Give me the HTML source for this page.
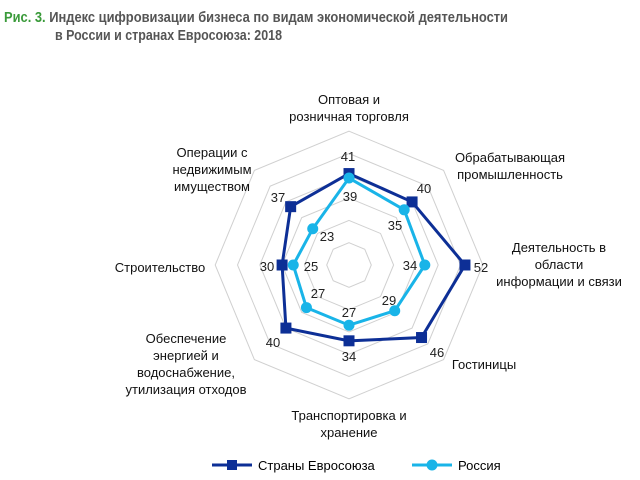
<!DOCTYPE html>
<html><head><meta charset="utf-8"><style>
body{margin:0;background:#fff;}
svg{display:block;font-family:"Liberation Sans",Arial,sans-serif;}
</style></head><body>
<svg id="s" width="640" height="480" xmlns="http://www.w3.org/2000/svg">
<text x="4" y="22" font-size="15" font-weight="bold" fill="#555" textLength="504" lengthAdjust="spacingAndGlyphs"><tspan fill="#3a9a3a">Рис. 3.</tspan> Индекс цифровизации бизнеса по видам экономической деятельности</text>
<text x="55" y="40" font-size="15" font-weight="bold" fill="#555" textLength="227" lengthAdjust="spacingAndGlyphs">в России и странах Евросоюза: 2018</text>
<g id="g"></g>
<g font-size="13" fill="#111" text-anchor="middle">
<text x="349" y="104">Оптовая и</text>
<text x="349" y="121">розничная торговля</text>
<text x="510" y="162">Обрабатывающая</text>
<text x="510" y="179">промышленность</text>
<text x="559" y="252">Деятельность в</text>
<text x="559" y="269">области</text>
<text x="559" y="286">информации и связи</text>
<text x="484" y="369">Гостиницы</text>
<text x="349" y="420">Транспортировка и</text>
<text x="349" y="437">хранение</text>
<text x="186" y="343">Обеспечение</text>
<text x="186" y="360">энергией и</text>
<text x="186" y="377">водоснабжение,</text>
<text x="186" y="394">утилизация отходов</text>
<text x="160" y="272">Строительство</text>
<text x="212" y="157">Операции с</text>
<text x="212" y="174">недвижимым</text>
<text x="212" y="191">имуществом</text>
</g>
<g font-size="13" fill="#222" text-anchor="middle">
<text x="348" y="161">41</text><text x="350" y="201">39</text>
<text x="424" y="193">40</text><text x="395" y="230">35</text>
<text x="481" y="272">52</text><text x="410" y="270">34</text>
<text x="437" y="357">46</text><text x="389" y="305">29</text>
<text x="349" y="361">34</text><text x="349" y="317">27</text>
<text x="273" y="347">40</text><text x="318" y="298">27</text>
<text x="267" y="271">30</text><text x="311" y="271">25</text>
<text x="278" y="202">37</text><text x="327" y="241">23</text>
</g>
<line x1="212" y1="465" x2="252" y2="465" stroke="#0d2f96" stroke-width="3"/>
<rect x="227" y="460" width="10" height="10" fill="#0d2f96"/>
<text x="258" y="470" font-size="13">Страны Евросоюза</text>
<line x1="412" y1="465" x2="452" y2="465" stroke="#19b4e8" stroke-width="3"/>
<circle cx="432" cy="465" r="5.5" fill="#19b4e8"/>
<text x="458" y="470" font-size="13">Россия</text>
</svg>
<script>
var cx=349,cy=265,k=2.23,g=document.getElementById('g'),ns="http://www.w3.org/2000/svg";
function pt(v,i){var a=(-90+45*i)*Math.PI/180;return [cx+v*k*Math.cos(a),cy+v*k*Math.sin(a)];}
var h='';
for(var r=10;r<=60;r+=10){var p=[];for(var i=0;i<8;i++)p.push(pt(r,i).join(','));h+='<polygon points="'+p.join(' ')+'" fill="none" stroke="#d0d0d0" stroke-width="1"/>';}
function series(d,c,sq){var p=[];for(var i=0;i<8;i++)p.push(pt(d[i],i).join(','));
h+='<polygon points="'+p.join(' ')+'" fill="none" stroke="'+c+'" stroke-width="3"/>';
for(i=0;i<8;i++){var q=pt(d[i],i);h+=sq?'<rect x="'+(q[0]-5.5)+'" y="'+(q[1]-5.5)+'" width="11" height="11" fill="'+c+'"/>':'<circle cx="'+q[0]+'" cy="'+q[1]+'" r="5.5" fill="'+c+'"/>';}}
series([41,40,52,46,34,40,30,37],'#0d2f96',1);
series([39,35,34,29,27,27,25,23],'#19b4e8',0);
g.innerHTML=h;
</script>
</body></html>
